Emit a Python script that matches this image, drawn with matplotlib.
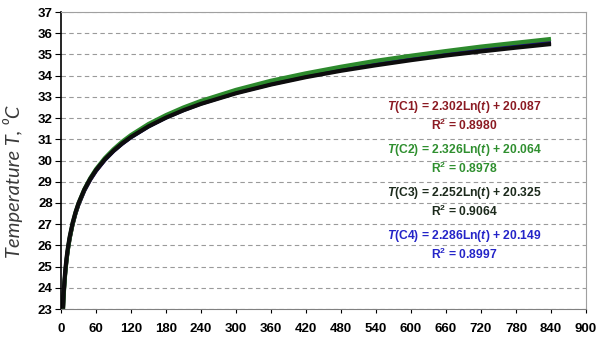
import numpy as np
import matplotlib.pyplot as plt

plt.rcParams['mathtext.fontset'] = 'custom'
plt.rcParams['mathtext.rm'] = 'Liberation Sans:bold'
plt.rcParams['mathtext.bf'] = 'Liberation Sans:bold'
plt.rcParams['mathtext.it'] = 'Liberation Sans:italic:bold'
plt.rcParams['mathtext.bfit'] = 'Liberation Sans:italic:bold'

# time (min) and temperature (C)
t = [3.3, 4, 5, 6, 7, 8.5, 10, 12, 15, 20, 25, 30, 40, 50, 60, 75, 90, 105, 120,
     150, 180, 210, 240, 300, 360, 420, 480, 540, 600, 660, 720, 780, 840]
c1 = [22.84, 23.28, 23.79, 24.21, 24.57, 25.01, 25.39, 25.81, 26.32, 26.98, 27.50,
      27.92, 28.58, 29.09, 29.51, 30.03, 30.45, 30.80, 31.11, 31.62, 32.04, 32.40,
      32.70, 33.22, 33.64, 33.99, 34.30, 34.57, 34.81, 35.03, 35.23, 35.42, 35.59]
c2 = [22.84, 23.29, 23.81, 24.23, 24.59, 25.04, 25.42, 25.84, 26.36, 27.03, 27.55,
      27.98, 28.64, 29.16, 29.59, 30.11, 30.53, 30.89, 31.20, 31.72, 32.14, 32.50,
      32.81, 33.33, 33.76, 34.11, 34.42, 34.70, 34.94, 35.16, 35.37, 35.55, 35.73]
c3 = [23.01, 23.45, 23.95, 24.36, 24.71, 25.14, 25.51, 25.92, 26.42, 27.07, 27.57,
      27.98, 28.63, 29.13, 29.55, 30.05, 30.46, 30.81, 31.11, 31.61, 32.02, 32.37,
      32.67, 33.17, 33.58, 33.93, 34.23, 34.49, 34.73, 34.95, 35.14, 35.32, 35.49]
c4 = [22.88, 23.32, 23.83, 24.25, 24.60, 25.04, 25.41, 25.83, 26.34, 27.00, 27.51,
      27.92, 28.58, 29.09, 29.51, 30.02, 30.44, 30.79, 31.09, 31.60, 32.02, 32.37,
      32.68, 33.19, 33.60, 33.96, 34.26, 34.53, 34.77, 34.99, 35.19, 35.37, 35.54]

labels = ['C1', 'C2', 'C3', 'C4']
slopes = ['2.302', '2.326', '2.252', '2.286']
intercepts = ['20.087', '20.064', '20.325', '20.149']
r2 = ['0.8980', '0.8978', '0.9064', '0.8997']
text_colors = ['#8b1a22', '#2f8f2f', '#1c2a1c', '#2424c8']

fig = plt.figure(figsize=(6.01, 3.4), dpi=100)
ax = fig.add_axes([61 / 601, 1 - 309 / 340, 525 / 601, 297 / 340])

# curves, drawn so black and green end up on top as in the picture
ax.plot(t, c1, color='#7a1a1a', lw=2.8, solid_capstyle='butt')
ax.plot(t, c4, color='#1a1a7a', lw=2.8, solid_capstyle='butt')
ax.plot(t, c2, color='#2d8a2d', lw=3.0, solid_capstyle='butt')
ax.plot(t, c3, color='#0d0d0d', lw=3.0, solid_capstyle='butt')

ax.set_xlim(0, 900)
ax.set_ylim(23, 37)
ax.set_xticks(np.arange(0, 901, 60))
ax.set_yticks(np.arange(23, 38, 1))
ax.yaxis.grid(True, linestyle=(0, (4, 3)), color='#9a9a9a', lw=0.8)
ax.set_axisbelow(True)

for lab in ax.get_xticklabels() + ax.get_yticklabels():
    lab.set_family('Liberation Sans')
    lab.set_fontweight('bold')
    lab.set_fontsize(9.5)
ax.tick_params(axis='x', direction='out', length=3, width=0.8, pad=7)
ax.tick_params(axis='y', direction='out', length=4, width=0.8, pad=2)

ax.spines['left'].set_color('black')
ax.spines['left'].set_linewidth(1.2)
ax.spines['bottom'].set_color('#808080')
ax.spines['top'].set_color('#a0a0a0')
ax.spines['right'].set_color('#a0a0a0')

ax.set_ylabel('Temperature T, \u2070C', family=['Lato', 'DejaVu Sans'],
              style='italic', fontsize=14.5, color='#3a3a3a')
ax.yaxis.set_label_coords(-0.072, 0.43)

# trendline equations
for i in range(4):
    y0 = 37 - (107 + i * 43 - 12) / 297 * 14
    ax.text(692, y0, r'$\mathbfit{T}$(' + labels[i] + ') = ' + slopes[i]
            + r'Ln($\mathbfit{t}$) + ' + intercepts[i],
            ha='center', va='center', color=text_colors[i],
            family='Liberation Sans', fontweight='bold', fontsize=8.7)
    ax.text(692, y0 - 0.88, r'R$^{2}$ = ' + r2[i],
            ha='center', va='center', color=text_colors[i],
            family='Liberation Sans', fontweight='bold', fontsize=8.7)

fig.savefig('out.png', dpi=100, facecolor='white')
